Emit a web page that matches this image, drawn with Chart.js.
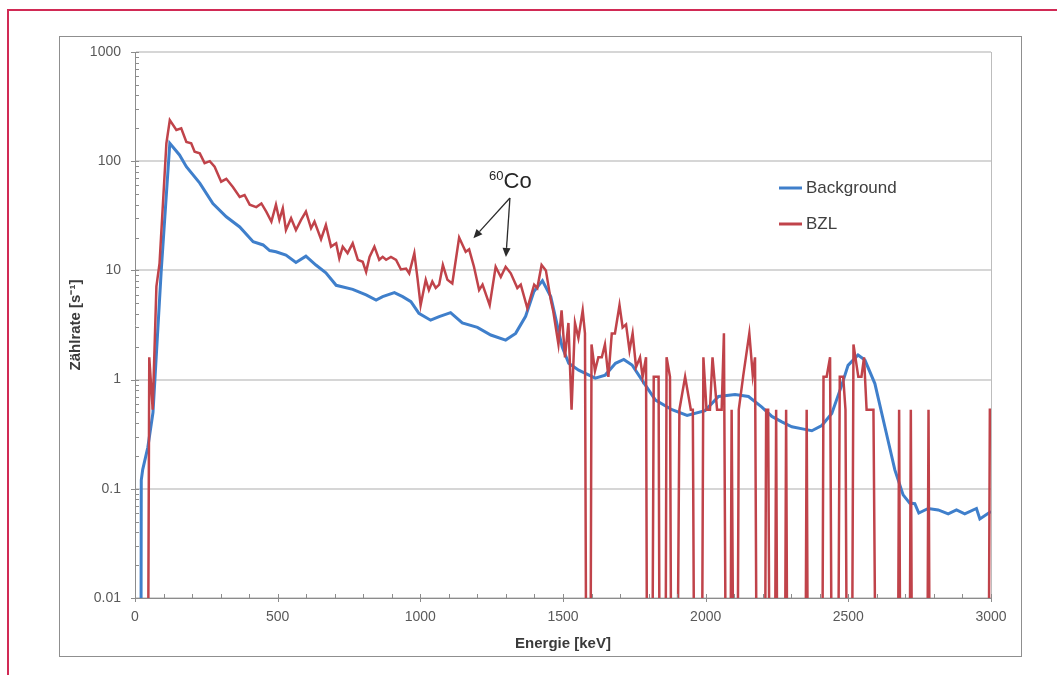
<!DOCTYPE html>
<html>
<head>
<meta charset="utf-8"/>
<title>Zählrate Background / BZL</title>
<style>
    html, body { margin: 0; padding: 0; background: #ffffff; }
    #page { position: relative; width: 1057px; height: 675px; overflow: hidden; }
    #frame { position: absolute; left: 7px; top: 9px; width: 1100px; height: 700px;
             border-top: 2px solid #d12a55; border-left: 2px solid #d12a55; }
    #box { position: absolute; left: 59px; top: 36px; width: 961px; height: 619px;
           border: 1px solid #8f8f8f; }
    #chart { position: absolute; left: 0; top: 0; }
</style>
<script src="https://cdn.jsdelivr.net/npm/chart.js@4.4.1/dist/chart.umd.min.js"></script>
</head>
<body>
<div id="page">
    <div id="frame"></div>
    <div id="box"></div>
    <canvas id="chart" width="1057" height="675"></canvas>
</div>
<script>
    // Background (blau)
    const bgEnergy = [0, 20, 22, 27, 45, 63, 92, 122, 156, 180,
        227, 273, 320, 367, 414, 449, 472, 494, 529, 564,
        599, 634, 669, 705, 763, 810, 845, 868, 909, 938,
        967, 995, 1036, 1066, 1106, 1147, 1200, 1247, 1299, 1334,
        1369, 1398, 1428, 1457, 1497, 1520, 1555, 1613, 1648, 1684,
        1713, 1742, 1777, 1824, 1882, 1935, 1998, 2045, 2103, 2150,
        2197, 2232, 2267, 2302, 2348, 2372, 2407, 2442, 2477, 2499,
        2534, 2558, 2593, 2628, 2663, 2692, 2715, 2733, 2747, 2780,
        2815, 2850, 2879, 2908, 2949, 2961, 3000];
    const bgRate = [0, 0, 0.12, 0.15, 0.24, 0.5, 10, 146, 114, 89,
        63, 41, 31, 25, 18.3, 17.1, 15.2, 14.8, 13.8, 11.8,
        13.5, 11.2, 9.5, 7.3, 6.7, 5.96, 5.36, 5.75, 6.25, 5.75,
        5.17, 4.05, 3.5, 3.77, 4.1, 3.3, 3.01, 2.56, 2.3, 2.65,
        3.8, 6.4, 8.05, 5.75, 2.0, 1.41, 1.22, 1.03, 1.1, 1.41,
        1.53, 1.36, 0.99, 0.65, 0.53, 0.47, 0.52, 0.70, 0.73, 0.70,
        0.56, 0.46, 0.41, 0.37, 0.35, 0.34, 0.38, 0.49, 0.89, 1.35,
        1.68, 1.51, 0.92, 0.37, 0.149, 0.088, 0.074, 0.073, 0.06, 0.066,
        0.064, 0.059, 0.064, 0.059, 0.066, 0.053, 0.062];

    // BZL (rot), 0 = keine Zählung
    const bzlEnergy = [0, 44, 50, 62, 75, 86, 110, 122, 145, 162,
        180, 197, 209, 227, 244, 262, 279, 302, 320, 343,
        367, 384, 402, 425, 443, 460, 478, 494, 506, 518,
        529, 547, 564, 582, 599, 617, 629, 652, 669, 687,
        705, 716, 728, 745, 763, 781, 798, 810, 822, 839,
        856, 868, 880, 897, 915, 932, 950, 961, 979, 990,
        1001, 1019, 1030, 1042, 1054, 1066, 1079, 1095, 1112, 1136,
        1159, 1171, 1188, 1206, 1218, 1243, 1264, 1282, 1299, 1317,
        1340, 1352, 1375, 1399, 1410, 1425, 1440, 1457, 1466, 1484,
        1495, 1507, 1519, 1530, 1542, 1554, 1569, 1577, 1583, 1595,
        1600, 1612, 1624, 1636, 1647, 1659, 1671, 1682, 1698, 1709,
        1721, 1733, 1744, 1756, 1770, 1779, 1791, 1796, 1811, 1818,
        1835, 1840, 1858, 1863, 1875, 1881, 1898, 1908, 1928, 1948,
        1955, 1962, 1985, 1992, 2003, 2015, 2024, 2040, 2056, 2064,
        2073, 2085, 2091, 2100, 2110, 2116, 2132, 2153, 2165, 2173,
        2181, 2206, 2212, 2219, 2226, 2241, 2247, 2253, 2276, 2282,
        2288, 2348, 2354, 2360, 2407, 2413, 2424, 2436, 2444, 2462,
        2470, 2482, 2490, 2497, 2511, 2518, 2535, 2546, 2555, 2564,
        2588, 2599, 2672, 2678, 2684, 2713, 2719, 2725, 2775, 2781,
        2787, 2990, 2996, 3000];
    const bzlRate = [0, 0, 1.6, 0.53, 7.1, 11.6, 146, 238, 193, 200,
        150, 146, 122, 118, 96, 100, 89, 65, 69, 58,
        47, 49, 40, 38, 41, 34.5, 28, 40, 29, 37,
        23.4, 30, 23.4, 29, 34.5, 24.3, 28, 19.3, 26, 16.5,
        17.7, 12.9, 16.5, 14.4, 17.7, 12.5, 12, 9.7, 13.3, 16.5,
        12.5, 13.3, 12.5, 13.3, 12.5, 10.2, 10.4, 9.4, 14.4, 8.5,
        4.8, 8.2, 6.6, 7.9, 6.9, 7.4, 11.2, 8.2, 7.6, 20,
        14.8, 15.6, 10.8, 6.6, 7.4, 4.8, 10.8, 8.7, 10.8, 9.4,
        6.9, 7.4, 4.5, 7.4, 6.9, 11.2, 10, 5.4, 4.2, 2.1,
        4.3, 1.6, 3.3, 0.53, 3.3, 2.4, 4.3, 2.65, 0, 0,
        2.1, 1.2, 1.6, 1.6, 2.1, 1.06, 2.65, 2.65, 4.8, 3.0,
        3.2, 1.85, 2.65, 1.3, 1.6, 1.06, 1.6, 0, 0, 1.06,
        1.06, 0, 0, 1.6, 1.06, 0, 0, 0.53, 1.06, 0.53,
        0.53, 0, 0, 1.6, 0.53, 0.53, 1.6, 0.53, 0.53, 2.65,
        0, 0, 0.53, 0, 0, 0.53, 1.1, 2.65, 1.1, 1.6,
        0, 0, 0.53, 0.53, 0, 0, 0.53, 0, 0, 0.53,
        0, 0, 0.53, 0, 0, 1.06, 1.06, 1.6, 0, 0,
        1.06, 1.06, 0.53, 0, 0, 2.1, 1.06, 1.06, 1.6, 0.53,
        0.53, 0, 0, 0.53, 0, 0, 0.53, 0, 0, 0.53,
        0, 0, 0.53, 0.53];

    const yTickValues = [0.01, 0.1, 1, 10, 100, 1000];
    const seriesNames = ['Background', 'BZL'];
    const seriesColors = ['#3f7fcb', '#c0434a'];

    // Annotation 60Co: Textanker, Pfeilursprung, Pfeilspitzen (Energie, Zählrate)
    const coLabelAt = [1241, 57];
    const coArrowFrom = [1314, 46];
    const coArrowTo = [[1186, 19.7], [1300, 13.3]];

    const ZERO_RATE = 1e-4;   // liegt unter der Achse, wird abgeschnitten
    const FONT = '"Liberation Sans", Arial, sans-serif';

    function toPoints(energies, rates) {
        return energies.map((e, i) => ({ x: e, y: rates[i] > 0 ? rates[i] : ZERO_RATE }));
    }

    const frameAndTicks = {
        id: 'frameAndTicks',
        afterDraw(chart) {
            const { ctx, chartArea: a, scales: { x, y } } = chart;
            ctx.save();
            ctx.strokeStyle = '#bdbdbd';
            ctx.lineWidth = 1;
            ctx.beginPath();
            ctx.moveTo(a.right + 0.5, a.top);
            ctx.lineTo(a.right + 0.5, a.bottom);
            ctx.stroke();

            ctx.strokeStyle = '#8c8c8c';
            ctx.beginPath();
            for (let d = 0.01; d < 1000; d *= 10) {
                for (let k = 2; k <= 9; k++) {
                    const py = Math.round(y.getPixelForValue(d * k)) + 0.5;
                    ctx.moveTo(a.left, py);
                    ctx.lineTo(a.left + 4, py);
                }
            }
            yTickValues.forEach((v) => {
                const py = Math.round(y.getPixelForValue(v)) + 0.5;
                ctx.moveTo(a.left - 4, py);
                ctx.lineTo(a.left + 4, py);
            });
            for (let e = 0; e <= 3000; e += 100) {
                const px = Math.round(x.getPixelForValue(e)) + 0.5;
                const major = e % 500 === 0;
                ctx.moveTo(px, a.bottom - 4);
                ctx.lineTo(px, a.bottom + (major ? 4 : 0));
            }
            ctx.stroke();
            ctx.restore();
        }
    };

    const annotation = {
        id: 'coAnnotation',
        afterDatasetsDraw(chart) {
            const { ctx, scales: { x, y } } = chart;
            const ox = x.getPixelForValue(coArrowFrom[0]);
            const oy = y.getPixelForValue(coArrowFrom[1]);
            ctx.save();
            ctx.strokeStyle = '#2b2b2b';
            ctx.fillStyle = '#2b2b2b';
            ctx.lineWidth = 1.3;
            coArrowTo.forEach(([e, v]) => {
                const tx = x.getPixelForValue(e);
                const ty = y.getPixelForValue(v);
                const ang = Math.atan2(ty - oy, tx - ox);
                const len = 9, half = 4;
                const bx = tx - len * Math.cos(ang), by = ty - len * Math.sin(ang);
                ctx.beginPath();
                ctx.moveTo(ox, oy);
                ctx.lineTo(bx, by);
                ctx.stroke();
                ctx.beginPath();
                ctx.moveTo(tx, ty);
                ctx.lineTo(bx + half * Math.sin(ang), by - half * Math.cos(ang));
                ctx.lineTo(bx - half * Math.sin(ang), by + half * Math.cos(ang));
                ctx.closePath();
                ctx.fill();
            });

            const lx = x.getPixelForValue(coLabelAt[0]);
            const ly = y.getPixelForValue(coLabelAt[1]);
            ctx.fillStyle = '#262626';
            ctx.textBaseline = 'alphabetic';
            ctx.textAlign = 'left';
            ctx.font = '13px ' + FONT;
            ctx.fillText('60', lx, ly - 8);
            const w = ctx.measureText('60').width;
            ctx.font = '22px ' + FONT;
            ctx.fillText('Co', lx + w, ly);
            ctx.restore();
        }
    };

    const sideLegend = {
        id: 'sideLegend',
        afterDraw(chart) {
            const { ctx, chartArea: a } = chart;
            ctx.save();
            ctx.font = '17px ' + FONT;
            ctx.textBaseline = 'middle';
            ctx.textAlign = 'left';
            seriesNames.forEach((name, i) => {
                const py = a.top + 136 + i * 36;
                ctx.strokeStyle = seriesColors[i];
                ctx.lineWidth = 3;
                ctx.beginPath();
                ctx.moveTo(a.left + 644, py);
                ctx.lineTo(a.left + 667, py);
                ctx.stroke();
                ctx.fillStyle = '#404040';
                ctx.fillText(name, a.left + 671, py);
            });
            ctx.restore();
        }
    };

    const chart = new Chart(document.getElementById('chart').getContext('2d'), {
        type: 'line',
        data: {
            datasets: [
                {
                    label: seriesNames[0],
                    data: toPoints(bgEnergy, bgRate),
                    borderColor: seriesColors[0],
                    borderWidth: 3,
                    pointRadius: 0,
                    tension: 0,
                    order: 2,
                },
                {
                    label: seriesNames[1],
                    data: toPoints(bzlEnergy, bzlRate),
                    borderColor: seriesColors[1],
                    borderWidth: 2.5,
                    pointRadius: 0,
                    tension: 0,
                    order: 1,
                },
            ],
        },
        options: {
            responsive: false,
            animation: false,
            layout: { padding: { left: 61, right: 66, top: 52, bottom: 20 } },
            plugins: {
                legend: { display: false },
                tooltip: { enabled: false },
            },
            scales: {
                x: {
                    type: 'linear',
                    min: 0,
                    max: 3000,
                    ticks: {
                        stepSize: 500,
                        padding: 11,
                        maxRotation: 0,
                        color: '#595959',
                        font: { family: FONT, size: 14 },
                        callback: (v) => String(v),
                    },
                    grid: { display: false, drawTicks: false },
                    border: { display: true, color: '#8c8c8c', width: 1 },
                    title: {
                        display: true,
                        text: 'Energie [keV]',
                        color: '#3a3a3a',
                        font: { family: FONT, size: 15, weight: 'bold' },
                        padding: { top: 0, bottom: 2 },
                    },
                    afterFit: (s) => { s.height = 57; },
                },
                y: {
                    type: 'logarithmic',
                    min: 0.01,
                    max: 1000,
                    afterBuildTicks: (s) => { s.ticks = yTickValues.map((v) => ({ value: v })); },
                    ticks: {
                        padding: 14,
                        autoSkip: false,
                        color: '#595959',
                        font: { family: FONT, size: 14 },
                        callback: (v) => String(v),
                    },
                    grid: { color: '#d6d6d6', lineWidth: 2, drawTicks: false },
                    border: { display: true, color: '#8c8c8c', width: 1 },
                    title: {
                        display: true,
                        text: 'Zählrate [s⁻¹]',
                        color: '#3a3a3a',
                        font: { family: FONT, size: 15, weight: 'bold' },
                        padding: { top: 6, bottom: 0 },
                    },
                    afterFit: (s) => { s.width = 74; },
                },
            },
        },
        plugins: [frameAndTicks, annotation, sideLegend],
    });
</script>
</body>
</html>
